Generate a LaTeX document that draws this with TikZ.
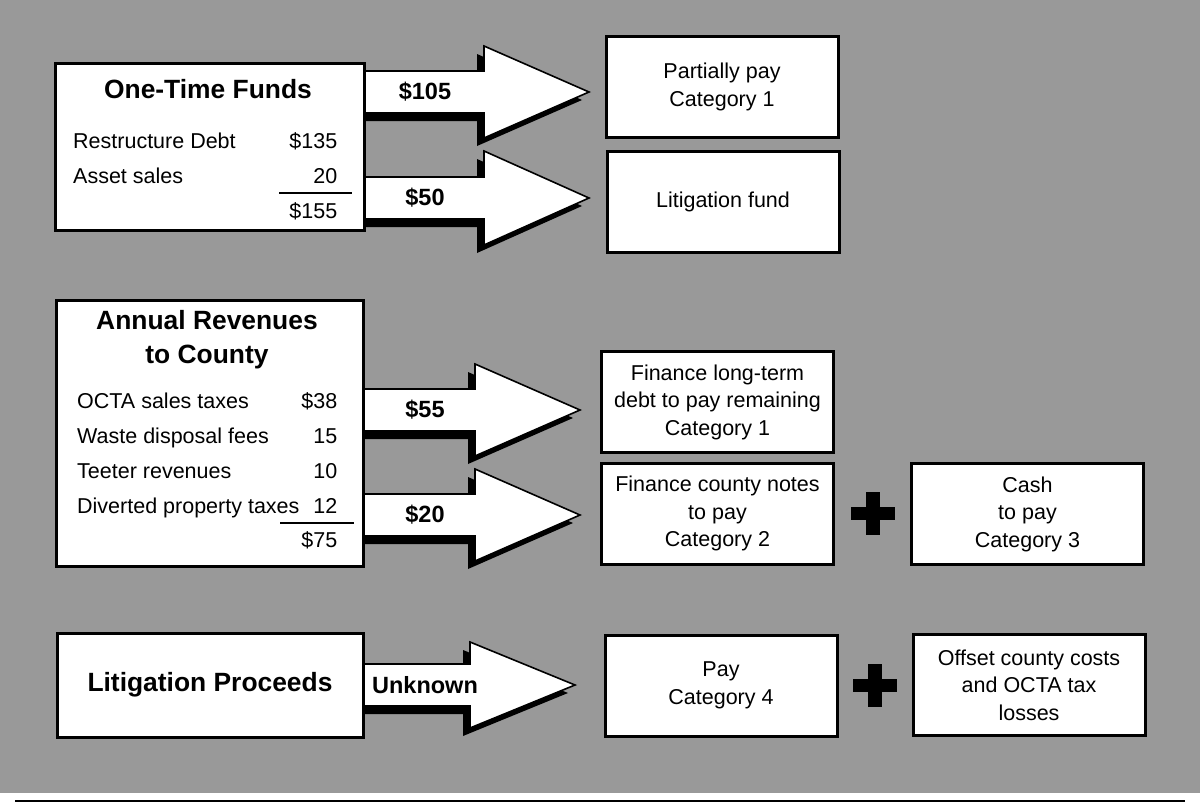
\documentclass[tikz,border=0pt]{standalone}
\usepackage{fontspec}
\setmainfont{Liberation Sans}
\usetikzlibrary{calc}
\pgfdeclarelayer{bg}
\pgfdeclarelayer{flow}
\pgfsetlayers{bg,flow,main}
\definecolor{bggray}{gray}{0.6}
\tikzset{
  srcbox/.style={draw, line width=3pt, fill=white, inner sep=0pt},
  outbox/.style={draw, line width=3pt, fill=white, inner sep=0pt, minimum width=232pt,
    minimum height=101pt, align=center, font=\fontsize{21.5}{27.5}\selectfont},
  headtext/.style={font=\fontsize{26.4}{33}\selectfont\bfseries, inner sep=0pt},
  itemtext/.style={font=\fontsize{21.5}{26}\selectfont, inner sep=0pt},
  flowlabel/.style={font=\fontsize{23.5}{28}\selectfont\bfseries, inner sep=0pt},
  blockarrow/.style={fill=white, draw=black, line width=1.6pt, line join=miter},
  arrowshadow/.style={fill=black},
}
\begin{document}
\begin{tikzpicture}[x=1pt, y=-1pt]
  \useasboundingbox (0,0) rectangle (1204,803);
  \begin{pgfonlayer}{bg}
    \fill[bggray] (0,0) rectangle (1200,793);
  \end{pgfonlayer}
  \draw[line width=1.2pt] (15,801) -- (1185,801);

  % sources
  \node[srcbox, minimum width=309pt, minimum height=167pt] (otf) at (209.5,146.5) {};
  \node[srcbox, minimum width=307pt, minimum height=266pt] (arc) at (209.5,433) {};
  \node[srcbox, minimum width=306pt, minimum height=104pt, headtext] (lp) at (210,685) {Litigation Proceeds};

  \node[headtext, anchor=base] (otf-title) at (208,98) {One-Time Funds};
  \foreach \what/\amt [count=\i from 0] in {Restructure Debt/\$135, Asset sales/20}{
    \node[itemtext, anchor=base west] (otf-l\i) at (73,{148+35*\i}) {\what};
    \node[itemtext, anchor=base east] (otf-a\i) at (337.5,{148+35*\i}) {\amt};
  }
  \draw[line width=1.2pt] (279,193) -- (352,193);
  \node[itemtext, anchor=base east] (otf-sum) at (337.5,218) {\$155};

  \node[headtext, anchor=base] (arc-title1) at (207,329) {Annual Revenues};
  \node[headtext, anchor=base] (arc-title2) at (207,363) {to County};
  \foreach \what/\amt [count=\i from 0] in {OCTA sales taxes/\$38, Waste disposal fees/15,
      Teeter revenues/10, Diverted property taxes/12}{
    \node[itemtext, anchor=base west] (arc-l\i) at (77,{408+35*\i}) {\what};
    \node[itemtext, anchor=base east] (arc-a\i) at (337.5,{408+35*\i}) {\amt};
  }
  \draw[line width=1.2pt] (280,523) -- (354,523);
  \node[itemtext, anchor=base east] (arc-sum) at (337.5,547) {\$75};

  % targets
  \node[outbox] (p1) at (722,87) {Partially pay\\Category 1};
  \node[outbox] (lf) at (723,202) {Litigation fund};
  \node[outbox] (fl) at (717.5,402) {Finance long-term\\debt to pay remaining\\Category 1};
  \node[outbox] (fc) at (717.5,513.5) {Finance county notes\\to pay\\Category 2};
  \node[outbox] (ca) at (1027.5,514) {Cash\\to pay\\Category 3};
  \node[outbox] (py) at (721,685.5) {Pay\\Category 4};
  \node[outbox] (of) at (1029,685) {Offset county costs\\and OCTA tax\\losses};

  \foreach \a/\b in {fc/ca, py/of}{
    \coordinate (plus-\a) at ($(\a.east)!0.5!(\b.west)$);
    \fill ($(plus-\a)+(-22,-6.5)$) rectangle ++(44,13);
    \fill ($(plus-\a)+(-7,-21.5)$) rectangle ++(14,43);
  }

  % block arrows
  \coordinate (t1) at (589,92);
  \coordinate (t2) at (589,198);
  \coordinate (t3) at (580,410);
  \coordinate (t4) at (580,515);
  \coordinate (t5) at (575,685);
  \coordinate (lblx) at (425,0);
  \begin{pgfonlayer}{flow}
    \foreach \src/\tip/\hh/\lab in {otf/t1/46/\$105, otf/t2/47/\$50, arc/t3/46/\$55,
        arc/t4/46/\$20, lp/t5/43/Unknown}{
      \foreach \dx/\dy/\sty in {-7/8/arrowshadow, 0/0/blockarrow}
        \path[\sty] let \p1=($(\src.east)+(\dx,\dy)$), \p2=($(\tip)+(\dx,\dy)$) in
          (\x1-20pt,\y2+21pt) -- (\x2-105pt,\y2+21pt) -- (\x2-105pt,\y2+\hh pt)
          -- (\x2,\y2) -- (\x2-105pt,\y2-\hh pt) -- (\x2-105pt,\y2-21pt)
          -- (\x1-20pt,\y2-21pt) -- cycle;
      \node[flowlabel] (lbl-\tip) at (\tip -| lblx) {\lab};
    }
  \end{pgfonlayer}
\end{tikzpicture}
\end{document}
